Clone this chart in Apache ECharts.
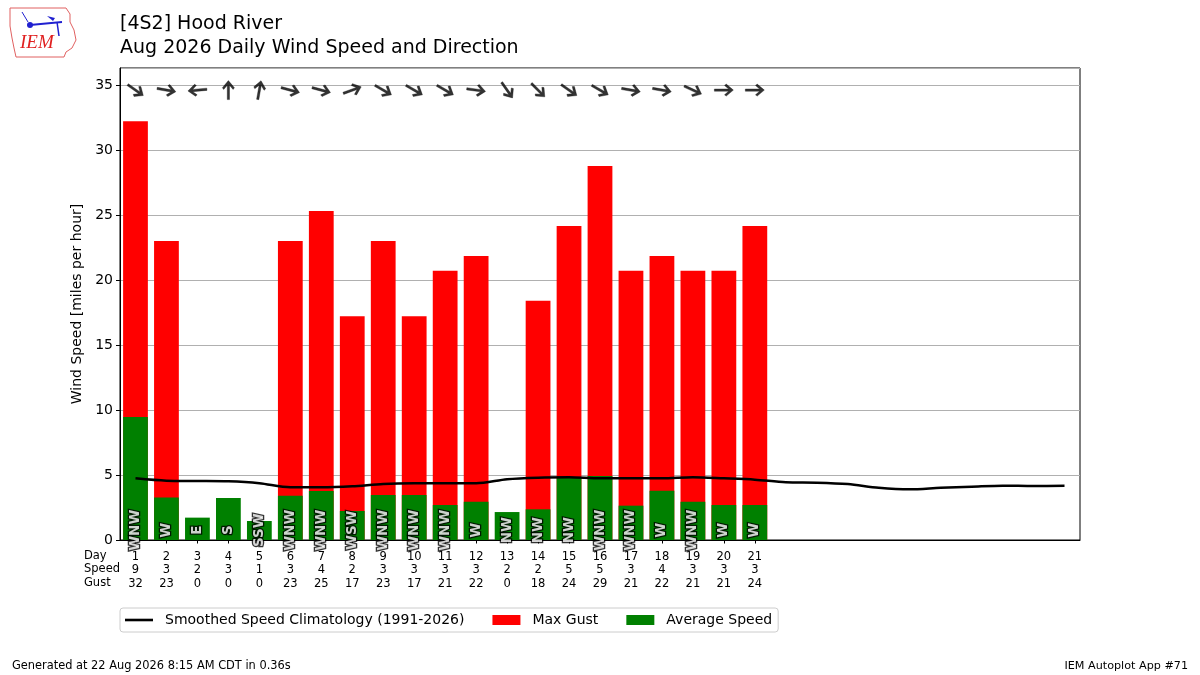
<!DOCTYPE html>
<html>
<head>
<meta charset="utf-8">
<script src="https://cdn.jsdelivr.net/npm/echarts@6/dist/echarts.min.js"></script>
<style>html,body{margin:0;padding:0;background:#fff}#c{width:1200px;height:675px}</style>
</head>
<body>
<div id="c"></div>
<script>
// ---- data ----
const days = Array.from({length: 31}, (_, i) => String(i + 1));
const avgSpeed = [9.45, 3.26, 1.72, 3.23, 1.46, 3.41, 3.77, 2.23, 3.46, 3.46, 2.69, 2.95, 2.15, 2.36, 4.82, 4.92, 2.64, 3.79, 2.95, 2.69, 2.69];
const maxGust  = [32.2, 23.0, 0, 0, 0, 23.0, 25.3, 17.2, 23.0, 17.2, 20.7, 21.85, 0, 18.4, 24.15, 28.77, 20.7, 21.85, 20.7, 20.7, 24.15];
const speedRow = ['9','3','2','3','1','3','4','2','3','3','3','3','2','2','5','5','3','4','3','3','3'];
const gustRow  = ['32','23','0','0','0','23','25','17','23','17','21','22','0','18','24','29','21','22','21','21','24'];
const dirText  = ['WNW','W','E','S','SSW','WNW','WNW','WSW','WNW','WNW','WNW','W','NW','NW','NW','WNW','WNW','W','WNW','W','W'];
const dirDeg   = [305, 280, 85, 180, 190, 285, 285, 250, 300, 300, 300, 278, 325, 315, 305, 300, 280, 280, 295, 270, 270];
const climo    = [4.74, 4.56, 4.54, 4.51, 4.36, 4.05, 4.05, 4.13, 4.31, 4.36, 4.36, 4.36, 4.67, 4.79, 4.82, 4.74, 4.74, 4.74, 4.82, 4.74, 4.64,
                  4.44, 4.41, 4.30, 4.02, 3.90, 4.02, 4.10, 4.18, 4.15, 4.17];
const yTicks = [0, 5, 10, 15, 20, 25, 30, 35];

// ---- build ----
const FONT = 'DejaVu Sans';
const ARROW_Y = 34.6;
const LABEL_Y = 0.75;
const arrowPath = 'path://M0,5.7 L15,5.7 L10.7,1.5 L12.5,0 L20,7 L12.5,14 L10.7,12.5 L15,8.3 L0,8.3 Z';

const gustData = days.map((d, i) => i < maxGust.length && maxGust[i] > 0 ? maxGust[i] : null);
const avgData = days.map((d, i) => i < avgSpeed.length ? avgSpeed[i] : null);
const arrowData = dirDeg.map((deg, i) => ({
  value: [days[i], ARROW_Y],
  symbolRotate: -(((deg + 90) % 360))
}));
const dirLabelData = dirText.map((t, i) => ({ value: [days[i], LABEL_Y], name: t }));

const chart = echarts.init(document.getElementById('c'), null, {renderer: 'canvas'});
chart.setOption({
  animation: false,
  textStyle: {fontFamily: FONT},
  title: {
    text: '[4S2] Hood River\nAug 2026 Daily Wind Speed and Direction',
    left: 120, top: 12, padding: 0,
    textStyle: {fontFamily: FONT, fontSize: 19, fontWeight: 'normal', color: '#000', lineHeight: 24}
  },
  grid: {left: 120, right: 120, top: 68, bottom: 135, show: true, borderColor: '#000', borderWidth: 1, backgroundColor: 'transparent'},
  legend: {
    left: 120, top: 608,
    padding: [5, 6, 5, 5],
    itemGap: 28,
    itemWidth: 28, itemHeight: 10,
    borderColor: '#cccccc', borderWidth: 1, borderRadius: 3,
    textStyle: {fontFamily: FONT, fontSize: 14, color: '#000',
      rich: {a: {fontFamily: FONT, fontSize: 14, color: '#000', padding: [0, 0, 0, 7]}}},
    formatter: n => '{a|' + n + '}',
    data: [
      {name: 'Smoothed Speed Climatology (1991-2026)', icon: 'path://M0,0 L28,0 L28,2.6 L0,2.6 Z'},
      {name: 'Max Gust', icon: 'rect'},
      {name: 'Average Speed', icon: 'rect'}
    ]
  },
  xAxis: {
    type: 'category',
    data: days,
    axisLine: {lineStyle: {color: '#000'}},
    axisTick: {show: true, alignWithLabel: true, interval: (i) => i < speedRow.length, length: 3.5, lineStyle: {color: '#000'}},
    axisLabel: {
      interval: 0,
      margin: 10,
      fontFamily: FONT, fontSize: 11.5, lineHeight: 13.5, color: '#000',
      formatter: (v, i) => i < speedRow.length ? v + '\n' + speedRow[i] + '\n' + gustRow[i] : ''
    },
    splitLine: {show: false}
  },
  yAxis: {
    type: 'value',
    min: 0, max: 36.3, interval: 5,
    name: 'Wind Speed [miles per hour]',
    nameLocation: 'middle', nameGap: 32,
    nameTextStyle: {fontFamily: FONT, fontSize: 14, color: '#000'},
    axisLine: {show: true, lineStyle: {color: '#000'}},
    axisTick: {show: true, length: 4, lineStyle: {color: '#000'}},
    axisLabel: {fontFamily: FONT, fontSize: 14, color: '#000', margin: 7, showMaxLabel: false,
      formatter: v => yTicks.indexOf(v) >= 0 ? String(v) : ''},
    splitLine: {show: true, lineStyle: {color: '#b0b0b0', width: 1}}
  },
  series: [
    {
      name: 'Max Gust', type: 'bar', data: gustData, barWidth: '80%', barGap: '-100%',
      itemStyle: {color: '#ff0000'}, z: 2
    },
    {
      name: 'Average Speed', type: 'bar', data: avgData, barWidth: '80%', barGap: '-100%',
      itemStyle: {color: '#008000'}, z: 3
    },
    {
      name: 'Smoothed Speed Climatology (1991-2026)', type: 'line', data: climo,
      symbol: 'none', smooth: 0.3,
      lineStyle: {color: '#000', width: 2.5}, itemStyle: {color: '#000'}, z: 4
    },
    {
      name: 'arrows', type: 'scatter', data: arrowData,
      symbol: arrowPath, symbolSize: [19, 12], symbolKeepAspect: false,
      itemStyle: {color: '#000', borderColor: '#000', borderWidth: 0.4}, z: 5, silent: true
    },
    {
      name: 'dirlabels', type: 'scatter', data: dirLabelData,
      symbolSize: 1, itemStyle: {color: 'rgba(0,0,0,0)'}, z: 6, silent: true,
      label: {
        show: true, position: 'inside', rotate: 90,
        formatter: p => p.name,
        fontFamily: FONT, fontSize: 13.5, fontWeight: 'bold', color: '#fff',
        textBorderColor: '#000', textBorderWidth: 2.5
      }
    }
  ],
  graphic: [
    {type: 'text', right: 1200 - 120, top: 549, style: {text: 'Day\nSpeed\nGust', font: '11.5px "DejaVu Sans"', fill: '#000', align: 'right', lineHeight: 13.5}},
    {type: 'text', left: 12, top: 661, style: {text: 'Generated at 22 Aug 2026 8:15 AM CDT in 0.36s', font: '11.4px "DejaVu Sans"', fill: '#000'}},
    {type: 'text', right: 12, top: 661, style: {text: 'IEM Autoplot App #71', font: '11.2px "DejaVu Sans"', fill: '#000', align: 'right'}},
    // logo approximation
    {type: 'polyline', shape: {points: [[10,8],[66,8],[70,14],[70,22],[74,30],[76,40],[72,48],[66,52],[64,57],[16,57],[14,48],[12,38],[10,26],[10,8]]},
      style: {stroke: '#e06060', fill: 'none', lineWidth: 1}},
    {type: 'text', left: 20, top: 33, style: {text: 'IEM', font: 'italic 19px "Liberation Serif"', fill: '#e02020'}},
    {type: 'line', shape: {x1: 30, y1: 25, x2: 62, y2: 22}, style: {stroke: '#2020d0', lineWidth: 2}},
    {type: 'circle', shape: {cx: 30, cy: 25, r: 3}, style: {fill: '#2020d0'}},
    {type: 'line', shape: {x1: 57, y1: 22, x2: 59, y2: 36}, style: {stroke: '#2020d0', lineWidth: 1.5}},
    {type: 'polygon', shape: {points: [[47,16],[55,18],[53,21]]}, style: {fill: '#2020d0'}},
    {type: 'line', shape: {x1: 22, y1: 12, x2: 28, y2: 22}, style: {stroke: '#2020d0', lineWidth: 1}}
  ]
});
</script>
</body>
</html>
